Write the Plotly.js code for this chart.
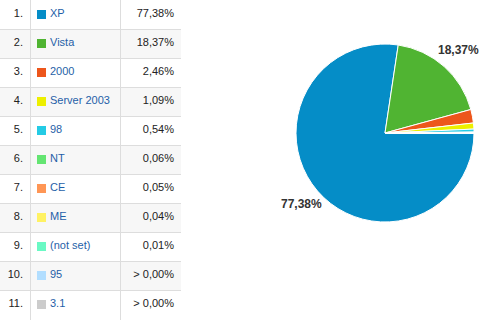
<!DOCTYPE html>
<html>
<head>
<meta charset="utf-8">
<script src="https://cdn.plot.ly/plotly-3.0.1.min.js"></script>
<style>html,body{margin:0;padding:0;background:#fff;}#chart{width:479px;height:320px;}</style>
</head>
<body>
<div id="chart"></div>
<script>
var ranks = ['1.', '2.', '3.', '4.', '5.', '6.', '7.', '8.', '9.', '10.', '11.'];
var names = ['XP', 'Vista', '2000', 'Server 2003', '98', 'NT', 'CE', 'ME', '(not set)', '95', '3.1'];
var shares = [77.38, 18.37, 2.46, 1.09, 0.54, 0.06, 0.05, 0.04, 0.01, 0.002, 0.001];
var shareLabels = ['77,38%', '18,37%', '2,46%', '1,09%', '0,54%', '0,06%', '0,05%', '0,04%', '0,01%', '&gt; 0,00%', '&gt; 0,00%'];
var colors = ['#058DC7', '#50B432', '#ED561B', '#EDEF00', '#24CBE5', '#64E572', '#FF9655', '#FFF263', '#6AF9C4', '#B2DEFF', '#CCCCCC'];
var pieLabelCount = 2;

// table geometry (pixels inside the table area)
var TW = 181, COL1 = 30, COL2 = 120.5;
var rankRight = 23, swatchX = 41.5, nameLeft = 50, pctRight = 174;
var rowIdx = ranks.map(function (r, i) { return i; });
var font = 'Liberation Sans, Arial, sans-serif';

function constArr(v, n) { var a = []; for (var i = 0; i < (n || rowIdx.length); i++) a.push(v); return a; }

var shapes = rowIdx.filter(function (i) { return i % 2 === 1; }).map(function (i) {
  return {type: 'rect', xref: 'x domain', yref: 'y', x0: 0, x1: 1, y0: i - 0.5, y1: i + 0.5,
          fillcolor: '#f7f7f7', line: {width: 0}, layer: 'below'};
});

var rankTrace = {
  type: 'scatter', mode: 'text', x: constArr(rankRight), y: rowIdx, text: ranks,
  textposition: 'middle left', textfont: {family: font, size: 11, color: '#222222'},
  xaxis: 'x', yaxis: 'y', hoverinfo: 'none', cliponaxis: false
};
var swatchTrace = {
  type: 'scatter', mode: 'markers', x: constArr(swatchX), y: rowIdx,
  marker: {symbol: 'square', size: 9, color: colors, line: {width: 0}},
  xaxis: 'x', yaxis: 'y', hoverinfo: 'none', cliponaxis: false
};
var nameTrace = {
  type: 'scatter', mode: 'text', x: constArr(nameLeft), y: rowIdx, text: names,
  textposition: 'middle right', textfont: {family: font, size: 11, color: '#1f5fa8'},
  xaxis: 'x', yaxis: 'y', hoverinfo: 'none', cliponaxis: false
};
var pctTrace = {
  type: 'scatter', mode: 'text', x: constArr(pctRight), y: rowIdx, text: shareLabels,
  textposition: 'middle left', textfont: {family: font, size: 11, color: '#222222'},
  xaxis: 'x', yaxis: 'y', hoverinfo: 'none', cliponaxis: false
};

var pieDomain = {x: [296 / 479, 474 / 479], y: [98 / 320, 276 / 320]};
var pie = {
  type: 'pie',
  labels: names,
  values: shares,
  textinfo: 'none',
  sort: false,
  direction: 'clockwise',
  rotation: 90,
  marker: {colors: colors, line: {color: '#ffffff', width: 1}},
  domain: pieDomain,
  automargin: false,
  showlegend: false,
  hoverinfo: 'none'
};

// pie labels placed at each slice's middle angle (clockwise from 3 o'clock) on an overlay axis of unit radius
var labelRadius = 1.24;
var total = shares.reduce(function (a, b) { return a + b; }, 0);
var cum = 0;
var midAngles = shares.map(function (s) { var m = (cum + s / 2) / total * 2 * Math.PI; cum += s; return m; });
var labelTrace = {
  type: 'scatter', mode: 'text',
  x: midAngles.slice(0, pieLabelCount).map(function (a) { return labelRadius * Math.cos(a); }),
  y: midAngles.slice(0, pieLabelCount).map(function (a) { return -labelRadius * Math.sin(a); }),
  text: shareLabels.slice(0, pieLabelCount),
  textposition: 'middle center',
  textfont: {family: font, size: 12, color: '#333333', weight: 'bold'},
  cliponaxis: false, hoverinfo: 'none', xaxis: 'x2', yaxis: 'y2'
};

var hiddenAxis = {showgrid: false, zeroline: false, showline: false, showticklabels: false, ticks: '', fixedrange: true};

var layout = {
  width: 479, height: 320,
  margin: {l: 0, r: 0, t: 0, b: 0},
  paper_bgcolor: '#ffffff', plot_bgcolor: 'rgba(0,0,0,0)',
  showlegend: false,
  shapes: shapes,
  xaxis: {domain: [0, TW / 479], range: [0, TW], showgrid: true, gridcolor: '#dddddd', gridwidth: 1,
          tickvals: [COL1, COL2, TW], showticklabels: false, ticks: '', zeroline: false, showline: false, fixedrange: true},
  yaxis: {domain: [0, 1], range: [-0.5 + 320 / 29, -0.5], showgrid: true, gridcolor: '#dddddd', gridwidth: 1,
          tickvals: rowIdx.map(function (i) { return i + 0.5; }), showticklabels: false, ticks: '',
          zeroline: false, showline: false, fixedrange: true},
  xaxis2: Object.assign({domain: pieDomain.x, range: [-1, 1], anchor: 'y2'}, hiddenAxis),
  yaxis2: Object.assign({domain: pieDomain.y, range: [-1, 1], anchor: 'x2'}, hiddenAxis)
};

Plotly.newPlot('chart', [rankTrace, swatchTrace, nameTrace, pctTrace, pie, labelTrace], layout, {staticPlot: true});
</script>
</body>
</html>
